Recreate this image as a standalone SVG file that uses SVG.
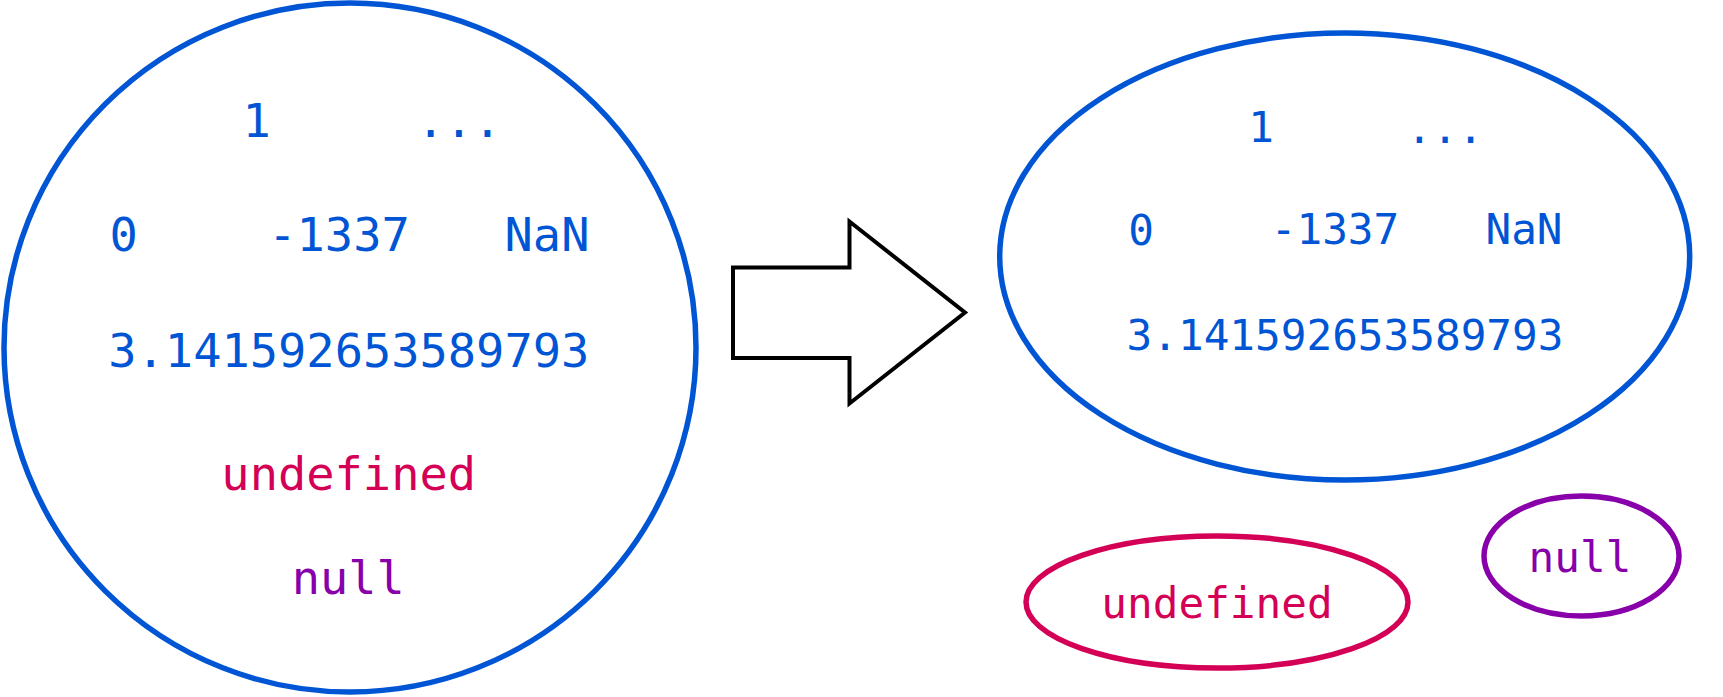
<svg xmlns="http://www.w3.org/2000/svg" width="1723" height="697" viewBox="0 0 1723 697">
<style>
text{font-family:"DejaVu Sans Mono","Liberation Mono",monospace;text-anchor:middle}
.big{font-size:47px}
.sm{font-size:42.7px}
.b{fill:#0055d4}
.r{fill:#d40055}
.p{fill:#8800aa}
.set{fill:none;stroke-width:5.5}
</style>
<rect width="1723" height="697" fill="#ffffff"/>
<g id="left-set">
<ellipse class="set" cx="350" cy="347.5" rx="346" ry="344.5" stroke="#0055d4"/>
<text class="big b" x="256.7" y="137">1</text>
<text class="big b" x="459" y="137">...</text>
<text class="big b" x="123.7" y="251">0</text>
<text class="big b" x="339" y="251">-1337</text>
<text class="big b" x="547" y="251">NaN</text>
<text class="big b" x="348.8" y="367">3.141592653589793</text>
<text class="big r" x="348.7" y="490">undefined</text>
<text class="big p" x="348.3" y="594">null</text>
</g>
<g id="connectors">
<path d="M733,267.5 H849.5 V221.5 L965,312.5 L849.5,403.5 V358 H733 Z" fill="#ffffff" stroke="#000000" stroke-width="4"/>
</g>
<g id="right-set">
<ellipse class="set" cx="1344.7" cy="256.5" rx="345" ry="223.5" stroke="#0055d4"/>
<text class="sm b" x="1261" y="142">1</text>
<text class="sm b" x="1445" y="142.5">...</text>
<text class="sm b" x="1141" y="244.5">0</text>
<text class="sm b" x="1335" y="244">-1337</text>
<text class="sm b" x="1524" y="244">NaN</text>
<text class="sm b" x="1345" y="350">3.141592653589793</text>
</g>
<g id="undefined-set">
<ellipse class="set" cx="1217" cy="602" rx="191" ry="66" stroke="#d40055" stroke-width="5"/>
<text class="sm r" x="1217" y="618">undefined</text>
</g>
<g id="null-set">
<ellipse class="set" cx="1581.5" cy="556" rx="97.5" ry="60" stroke="#8800aa" stroke-width="5"/>
<text class="sm p" x="1580" y="571.5">null</text>
</g>
</svg>
